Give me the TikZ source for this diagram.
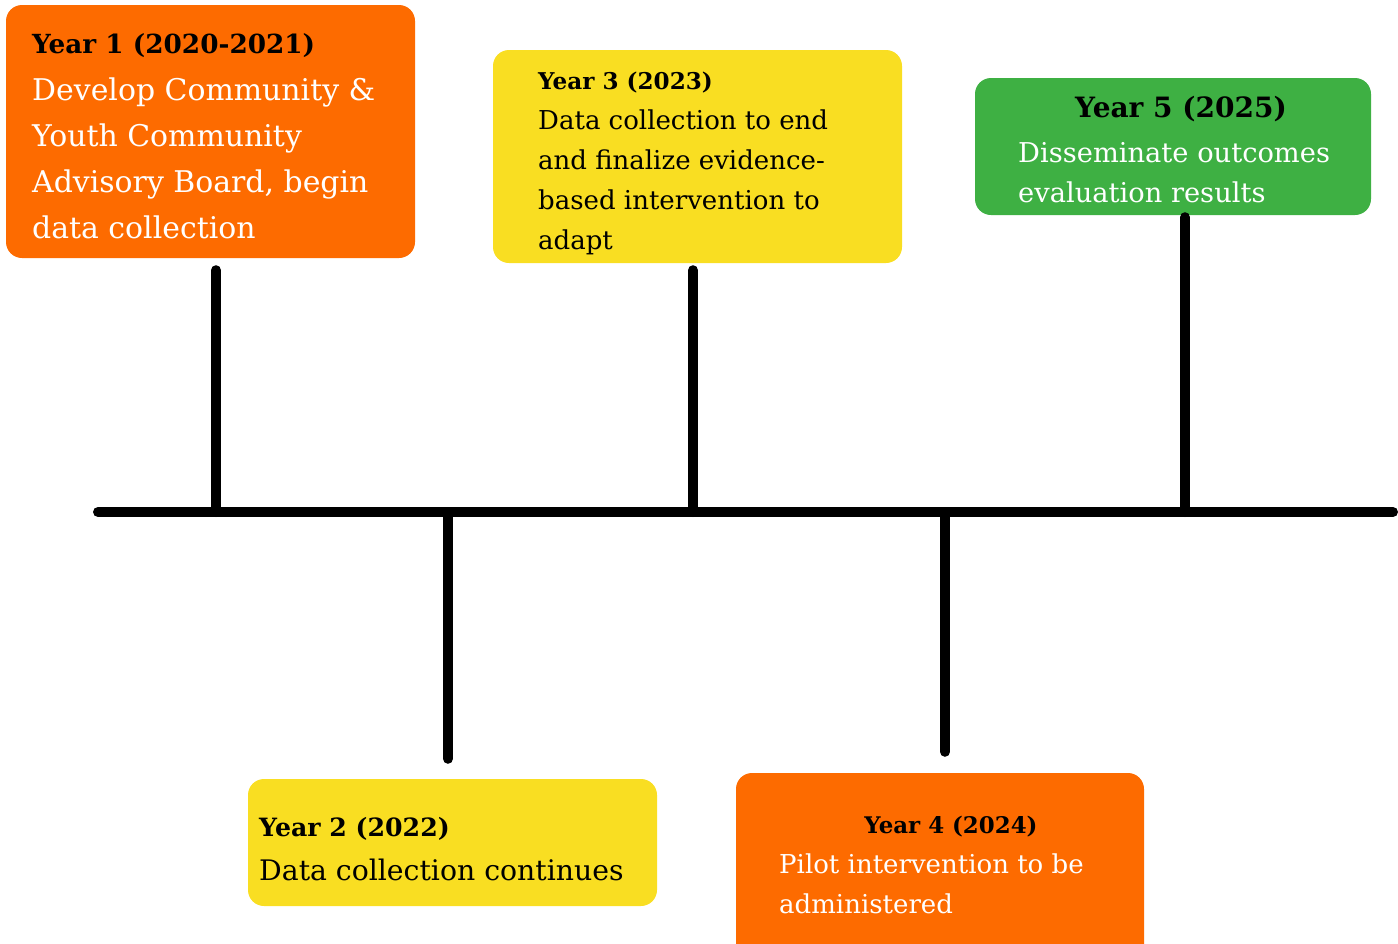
\documentclass[tikz,border=0pt]{standalone}
\usepackage{fontspec}
\setmainfont{DejaVu Serif}
\usepackage{xcolor}
\usetikzlibrary{positioning,calc}
\definecolor{tlorange}{RGB}{253,107,0}
\definecolor{tlyellow}{RGB}{249,222,34}
\definecolor{tlgreen}{RGB}{62,176,67}
\tikzset{
  yearbox/.style={rectangle, rounded corners=16pt, inner sep=0pt},
  stem/.style={line width=10pt, line cap=round},
  heading/.style={inner sep=0pt, font=\bfseries\fontsize{#1}{#1}\selectfont},
  body/.style={inner sep=0pt, align=left},
}

\begin{document}
\begin{tikzpicture}[x=1pt,y=-1pt]
    \clip (0,0) rectangle (1398,943);

    % Boxes
    \node[yearbox, fill=tlorange, minimum width=409, minimum height=253] (y1) at (210.5,131.5) {};
    \node[yearbox, fill=tlyellow, minimum width=409, minimum height=213] (y3) at (697.5,156.5) {};
    \node[yearbox, fill=tlgreen, minimum width=396, minimum height=137] (y5) at (1173,146.5) {};
    \node[yearbox, fill=tlyellow, minimum width=409, minimum height=127] (y2) at (452.5,842.5) {};
    \node[yearbox, fill=tlorange, minimum width=408, minimum height=190] (y4) at (940,868) {};

    % Texts (base of a body node = its last line)
    \node[heading=26.3, anchor=base west] (h1) at (32,53) {Year 1 (2020-2021)};
    \node[body, anchor=base west, text=white, font=\fontsize{29.9}{46}\selectfont] (b1) at (32,238)
        {Develop Community \&\\Youth Community\\Advisory Board, begin\\data collection};
    \node[heading=23.1, anchor=base west] (h3) at (538,89) {Year 3 (2023)};
    \node[body, anchor=base west, font=\fontsize{26}{40}\selectfont] (b3) at (538,249)
        {Data collection to end\\and finalize evidence-\\based intervention to\\adapt};
    \node[heading=28, anchor=base] (h5) at (1181,117) {Year 5 (2025)};
    \node[body, anchor=base west, text=white, font=\fontsize{27.3}{40}\selectfont] (b5) at (1018,202)
        {Disseminate outcomes\\evaluation results};
    \node[heading=25.2, anchor=base west] (h2) at (259,836) {Year 2 (2022)};
    \node[body, anchor=base west, font=\fontsize{28.3}{44}\selectfont] (b2) at (259,880)
        {Data collection continues};
    \node[heading=22.9, anchor=base] (h4) at (951,833) {Year 4 (2024)};
    \node[body, anchor=base west, text=white, font=\fontsize{26}{40}\selectfont] (b4) at (779,913)
        {Pilot intervention to be\\administered};

    % Timeline
    \coordinate (tl0) at (98,512);
    \coordinate (tl1) at (1393,512);
    \draw[stem] (tl0) -- (tl1);
    \coordinate (t1) at (216,512);
    \coordinate (t2) at (448,512);
    \coordinate (t3) at (693,512);
    \coordinate (t4) at (945,513);
    \coordinate (t5) at (1185,512);
    \draw[stem] (t1) -- ($(y1.south -| t1)+(0,12)$);
    \draw[stem] (t3) -- ($(y3.south -| t3)+(0,7)$);
    \draw[stem] (t5) -- ($(y5.south -| t5)+(0,2)$);
    \draw[stem] (t2) -- ($(y2.north -| t2)+(0,-20)$);
    \draw[stem] (t4) -- ($(y4.north -| t4)+(0,-21)$);
\end{tikzpicture}
\end{document}
